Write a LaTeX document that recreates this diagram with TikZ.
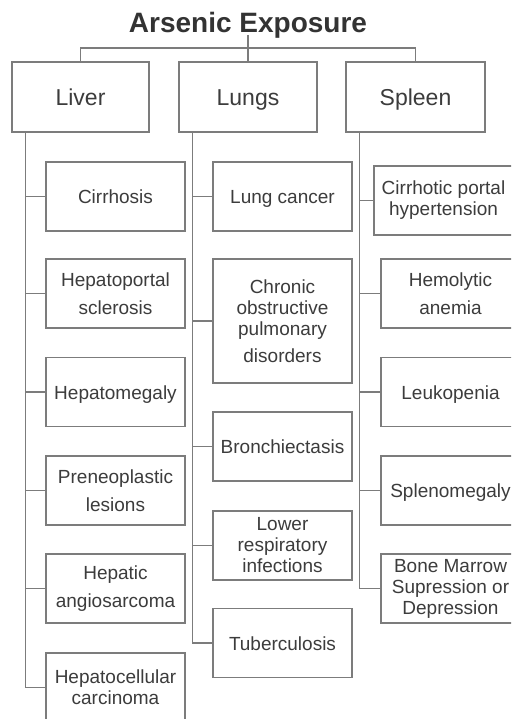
\documentclass[tikz,border=0pt]{standalone}
\usepackage{fontspec}
\setmainfont{Liberation Sans}
\definecolor{linegray}{HTML}{7C7C7C}
\definecolor{textgray}{HTML}{3C3C3C}
\definecolor{titlegray}{HTML}{333333}
\tikzset{
  topbox/.style={draw=linegray, line width=1.1pt, minimum height=70pt, inner sep=2pt,
    text height=17.5pt, text depth=0pt,
    text=textgray, font=\fontsize{23}{26}\selectfont},
  childbox/.style={draw=linegray, line width=1.1pt, minimum width=139pt, minimum height=69pt,
    inner sep=2pt, align=center, text=textgray, font=\fontsize{19}{21}\selectfont},
  oneline/.style={text height=14pt, text depth=0pt},
  conn/.style={draw=linegray, line width=1.1pt},
}
\begin{document}
\begin{tikzpicture}[x=1pt,y=-1pt]
\useasboundingbox (0,0) rectangle (511,719);
\clip (0,0) rectangle (511,719);
\fill[white] (0,0) rectangle (511,719);

% title
\node[anchor=base, inner sep=0pt, text=titlegray, font=\fontsize{28}{30}\selectfont\bfseries] (title) at (248,33) {Arsenic Exposure};

% top level
\node[topbox, minimum width=137pt] (liver) at (80.5,97) {Liver};
\node[topbox, minimum width=138pt] (lungs) at (248,97) {Lungs};
\node[topbox, minimum width=139pt] (spleen) at (415.5,97) {Spleen};

\coordinate (hub) at (248,48);
\draw[conn] ([yshift=-2pt]title.base) -- (hub);
\draw[conn] (hub) -| (liver.north);
\draw[conn] (hub) -- (lungs.north);
\draw[conn] (hub) -| (spleen.north);

% liver children
\node[childbox, oneline] (l1) at (115.5,196.5) {Cirrhosis};
\node[childbox] (l2) at (115.5,293.5) {Hepatoportal\\[7pt]sclerosis};
\node[childbox, oneline] (l3) at (115.5,392) {Hepatomegaly};
\node[childbox] (l4) at (115.5,490.5) {Preneoplastic\\[7pt]lesions};
\node[childbox] (l5) at (115.5,588.5) {Hepatic\\[7pt]angiosarcoma};
\node[childbox] (l6) at (115.5,687.5) {Hepatocellular\\carcinoma};

% lungs children
\node[childbox, oneline] (g1) at (282.5,196.5) {Lung cancer};
\node[childbox, minimum height=124pt] (g2) at (282.5,321) {Chronic\\obstructive\\pulmonary\\[6pt]disorders};
\node[childbox, oneline] (g3) at (282.5,446.5) {Bronchiectasis};
\node[childbox] (g4) at (282.5,545.5) {Lower\\respiratory\\infections};
\node[childbox, oneline] (g5) at (282.5,643) {Tuberculosis};

% spleen children
\node[childbox] (s1) at (443.5,200.5) {Cirrhotic portal\\hypertension};
\node[childbox] (s2) at (450.5,293.5) {Hemolytic\\[7pt]anemia};
\node[childbox, oneline] (s3) at (450.5,392) {Leukopenia};
\node[childbox, oneline] (s4) at (450.5,490.5) {Splenomegaly};
\node[childbox] (s5) at (450.5,588.5) {Bone Marrow\\Supression or\\Depression};

% spines
\coordinate (ls) at ([xshift=14pt]liver.south west);
\coordinate (gs) at ([xshift=14pt]lungs.south west);
\coordinate (ss) at ([xshift=14pt]spleen.south west);
\foreach \c in {l1,l2,l3,l4,l5,l6} \draw[conn] (ls) |- (\c.west);
\foreach \c in {g1,g2,g3,g4,g5} \draw[conn] (gs) |- (\c.west);
\foreach \c in {s1,s2,s3,s4,s5} \draw[conn] (ss) |- (\c.west);
\end{tikzpicture}
\end{document}
